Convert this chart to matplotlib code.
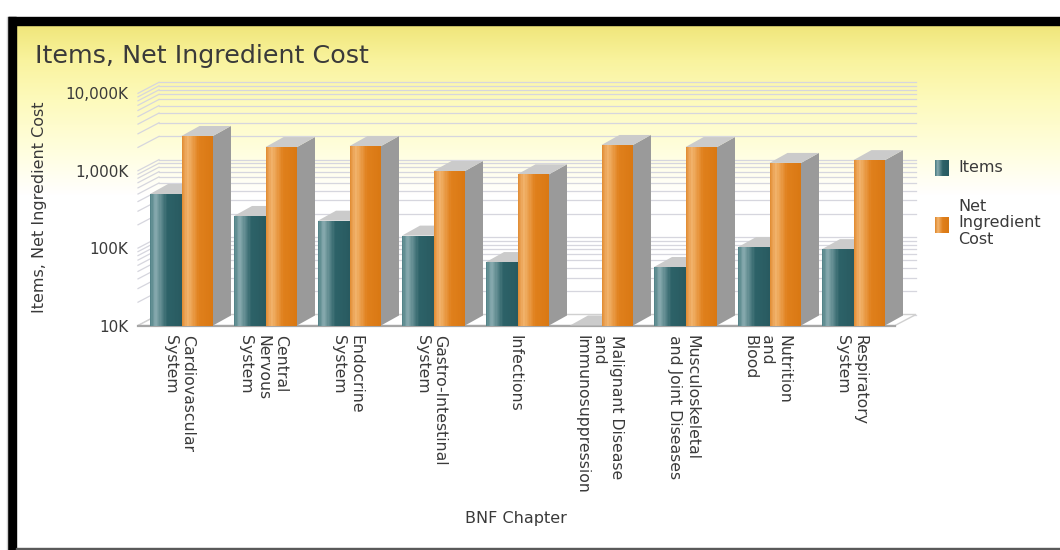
import numpy as np
import matplotlib
matplotlib.use('Agg')
from matplotlib import pyplot as plt
from matplotlib.patches import Rectangle, Polygon
from matplotlib.colors import LinearSegmentedColormap

plt.rcParams['font.family'] = 'DejaVu Sans'

# data
chapters = ['Cardiovascular\nSystem', 'Central\nNervous\nSystem', 'Endocrine\nSystem',
            'Gastro-Intestinal\nSystem', 'Infections',
            'Malignant Disease\nand\nImmunosuppression',
            'Musculoskeletal\nand Joint Diseases', 'Nutrition\nand\nBlood',
            'Respiratory\nSystem']
items = [500000, 260000, 226000, 145000, 66000, 8000, 57000, 103000, 97000]
net_cost = [2810000, 2020000, 2080000, 991000, 898000, 2150000, 2020000, 1260000, 1370000]
series_names = ['Items', 'Net\nIngredient\nCost']
ytick_vals = [1e4, 1e5, 1e6, 1e7]
ytick_labels = ['10K', '100K', '1,000K', '10,000K']

W, H = 1060, 550
fig = plt.figure(figsize=(W / 100, H / 100), dpi=100)
fig.patch.set_facecolor('white')

# background panel in pixel coords
bg = fig.add_axes([0, 0, 1, 1])
bg.set_xlim(0, W)
bg.set_ylim(H, 0)
bg.axis('off')
stops_y = [25, 60, 100, 150, 195, 548]
stops_c = [(240, 230, 122), (249, 243, 158), (253, 250, 188), (255, 254, 222), (255, 255, 255), (255, 255, 255)]
ys = np.arange(25, 548)
grad = np.zeros((len(ys), 1, 3))
for ch in range(3):
    grad[:, 0, ch] = np.interp(ys, stops_y, [c[ch] for c in stops_c]) / 255
bg.imshow(grad, extent=(16, W, 548, 25), aspect='auto', interpolation='bilinear', zorder=0)
bg.add_patch(Rectangle((8, 17), W - 8, 8, color='black', zorder=1))
bg.add_patch(Rectangle((8, 17), 8, H - 17, color='black', zorder=1))
bg.add_patch(Rectangle((16, 548), W - 16, 2, color='#5a5a5a', zorder=1))
bg.plot([7, 7], [17, H], color='#d0d0d0', lw=1, zorder=1)

txt = '#3a3a3a'
bg.text(35, 63, 'Items, Net Ingredient Cost', fontsize=18.3, color=txt, va='baseline', ha='left')
bg.text(40, 207, 'Items, Net Ingredient Cost', fontsize=11.5, color=txt, rotation=90,
        va='center', ha='center')
bg.text(516, 519, 'BNF Chapter', fontsize=11.5, color=txt, va='center', ha='center')

teal = LinearSegmentedColormap.from_list('teal', [(0, '#4c7e83'), (0.17, '#88abaf'), (0.55, '#2d6268'), (1, '#285a60')])
orange = LinearSegmentedColormap.from_list('orng', [(0, '#e08a30'), (0.2, '#f2b46e'), (0.55, '#e0801c'), (1, '#d97813')])
cmaps = [teal, orange]

# legend
sw = np.linspace(0, 1, 20)[None, :]
bg.imshow(sw, cmap=teal, extent=(935, 949, 176, 160), aspect='auto', zorder=2)
bg.imshow(sw, cmap=orange, extent=(935, 949, 233, 217), aspect='auto', zorder=2)
bg.text(958, 168, series_names[0], fontsize=11.5, color=txt, va='center', ha='left')
bg.text(958, 223, series_names[1], fontsize=11.5, color=txt, va='center', ha='left', linespacing=1.15)

# main plot
x0px, x1px, ybot, ytop = 138, 895, 325.5, 93.3
ax = fig.add_axes([x0px / W, (H - ybot) / H, (x1px - x0px) / W, (ybot - ytop) / H])
ax.patch.set_alpha(0)
for s in ax.spines.values():
    s.set_visible(False)
ax.set_yscale('log')
ax.set_ylim(1e4, 1e7)
cat_px = 84
xmin = -(181.5 - x0px) / cat_px
xmax = (x1px - 181.5) / cat_px
ax.set_xlim(xmin, xmax)
ax.set_yticks(ytick_vals)
ax.set_yticklabels(ytick_labels)
ax.yaxis.set_minor_locator(matplotlib.ticker.NullLocator())
ax.tick_params(axis='y', length=0, pad=7, labelsize=11, labelcolor=txt)
x = np.arange(len(chapters))
ax.set_xticks(x - 0.03)
ax.set_xticklabels(chapters, rotation=270, va='top', ha='center', multialignment='left',
                   fontsize=11.3, color=txt)
ax.tick_params(axis='x', length=0, pad=7)


def shift(px, py, dx, dy):
    d = ax.transData.transform((px, py))
    return ax.transData.inverted().transform((d[0] + dx, d[1] + dy))


# back wall + floor
wdx, wdy = 21, 11
grid_vals = [k * 10 ** e for e in range(4, 7) for k in range(1, 10)] + [1e7]
for g in grid_vals:
    p = shift(xmin, g, wdx, wdy)
    q = shift(xmax, g, wdx, wdy)
    ax.plot([xmin, p[0]], [g, p[1]], color='#d6d6de', lw=0.9, clip_on=False, zorder=1)
    ax.plot([p[0], q[0]], [p[1], q[1]], color='#d6d6de', lw=0.9, clip_on=False, zorder=1)
fl = [(xmin, 1e4), (xmax, 1e4), tuple(shift(xmax, 1e4, wdx, wdy)), tuple(shift(xmin, 1e4, wdx, wdy))]
ax.add_patch(Polygon(fl, closed=True, facecolor='white', edgecolor='#d0d0d0', lw=1, clip_on=False, zorder=2))
ax.plot([xmin, xmax], [1e4, 1e4], color='#a6a6a6', lw=1.6, clip_on=False, zorder=2)

# 3d bars
bw = 31.5 / cat_px
bdx, bdy = 18, 10
nstrip = 24
z = 3
for i in range(len(chapters)):
    for si, vals in enumerate([items, net_cost]):
        left = i - bw + si * bw
        top = max(vals[i], 1e4)
        right = left + bw
        side = [(right, 1e4), (right, top), tuple(shift(right, top, bdx, bdy)), tuple(shift(right, 1e4, bdx, bdy))]
        cap = [(left, top), (right, top), tuple(shift(right, top, bdx, bdy)), tuple(shift(left, top, bdx, bdy))]
        ax.add_patch(Polygon(side, closed=True, facecolor='#9a9a9a', lw=0, clip_on=False, zorder=z))
        ax.add_patch(Polygon(cap, closed=True, facecolor='#cbcbcb', lw=0, clip_on=False, zorder=z))
        if top > 1e4:
            ax.bar(left, top - 1e4, width=bw, bottom=1e4, align='edge',
                   color=cmaps[si](0.6), lw=0, zorder=z + 0.1)
            sw_ = bw / nstrip
            for k in range(nstrip):
                ax.bar(left + k * sw_, top - 1e4, width=sw_ * 1.02, bottom=1e4, align='edge',
                       color=cmaps[si]((k + 0.5) / nstrip), lw=0, zorder=z + 0.2)
        z += 1

fig.savefig('out.png', dpi=100)
